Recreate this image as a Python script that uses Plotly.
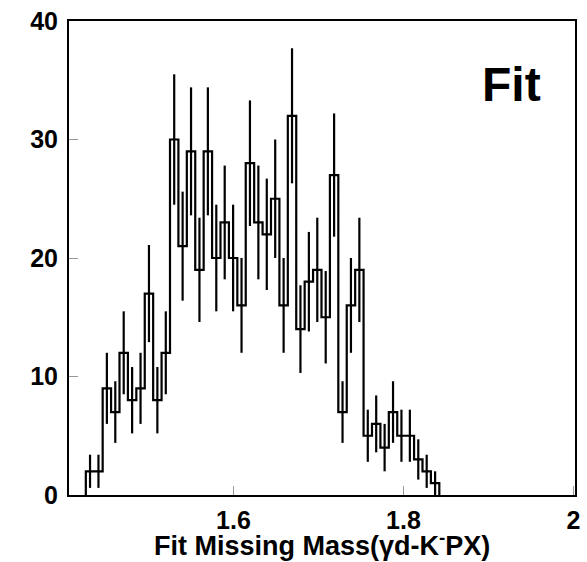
import numpy as np
import plotly.graph_objects as go

# Histogram data (counts per bin)
bin_start = 1.4264
bin_width = 0.0099
counts = [2, 2, 9, 7, 12, 8, 9, 17, 8, 12,
          30, 21, 29, 19, 29, 20, 23, 20, 16, 28,
          23, 22, 25, 16, 32, 14, 18, 19, 15, 27,
          7, 16, 19, 5, 6, 4, 7, 5, 5, 3,
          2, 1]
errors = [1.4, 1.4, 3.0, 2.6, 3.5, 2.8, 3.0, 4.1, 2.8, 3.5,
          5.5, 4.6, 5.4, 4.4, 5.4, 4.5, 4.8, 4.5, 4.0, 5.3,
          4.8, 4.7, 5.0, 4.0, 5.7, 3.7, 4.2, 4.4, 3.9, 5.2,
          2.6, 4.0, 4.4, 2.2, 2.4, 2.0, 2.6, 2.2, 2.2, 1.7,
          1.4, 1.0]
x_ticks = [1.6, 1.8, 2.0]
x_ticklabels = ["1.6", "1.8", "2"]
y_ticks = [0, 10, 20, 30, 40]
x_title = "Fit Missing Mass(γd-K<sup>-</sup>PX)"
label = "Fit"

n = len(counts)
edges = bin_start + bin_width * np.arange(n + 1)
centers = (edges[:-1] + edges[1:]) / 2

step_x = [edges[0]] + list(edges[:-1]) + [edges[-1], edges[-1]]
step_y = [0] + list(counts) + [counts[-1], 0]

FONT = "Liberation Sans, Arial, Helvetica, sans-serif"

fig = go.Figure()
fig.add_trace(go.Scatter(
    x=step_x, y=step_y, mode="lines", line_shape="hv",
    line=dict(color="black", width=2.2), hoverinfo="skip", showlegend=False))
fig.add_trace(go.Scatter(
    x=centers, y=counts, mode="markers",
    marker=dict(size=1, color="rgba(0,0,0,0)"),
    error_y=dict(type="data", array=errors, visible=True,
                 thickness=2.2, width=0, color="black"),
    showlegend=False))

fig.update_layout(
    width=587, height=562,
    margin=dict(l=69, r=7, t=15, b=67),
    paper_bgcolor="white", plot_bgcolor="white",
    font=dict(family=FONT, color="black"),
    xaxis=dict(range=[1.4066, 2.0018], tickvals=x_ticks, ticktext=x_ticklabels,
               ticks="inside", ticklen=9, tickwidth=1, tickcolor="#999",
               showline=True, linecolor="black", linewidth=2, mirror=True,
               showgrid=False, zeroline=False,
               tickfont=dict(family=FONT, size=25, weight="bold", color="black"),
               ticklabelstandoff=2),
    yaxis=dict(range=[0, 40], tickvals=y_ticks,
               ticks="inside", ticklen=9, tickwidth=1, tickcolor="#999",
               showline=True, linecolor="black", linewidth=2, mirror=True,
               showgrid=False, zeroline=False,
               tickfont=dict(family=FONT, size=25, weight="bold", color="black"),
               ticklabelstandoff=4),
    annotations=[
        dict(text=x_title, xref="paper", yref="paper", x=0.5, y=-0.104,
             xanchor="center", yanchor="middle", showarrow=False,
             font=dict(family=FONT, size=27, weight="bold", color="black")),
        dict(text=label, xref="paper", yref="paper", x=0.875, y=0.866,
             xanchor="center", yanchor="middle", showarrow=False,
             font=dict(family=FONT, size=48, weight="bold", color="black")),
    ],
)

fig.write_html("out.html")
